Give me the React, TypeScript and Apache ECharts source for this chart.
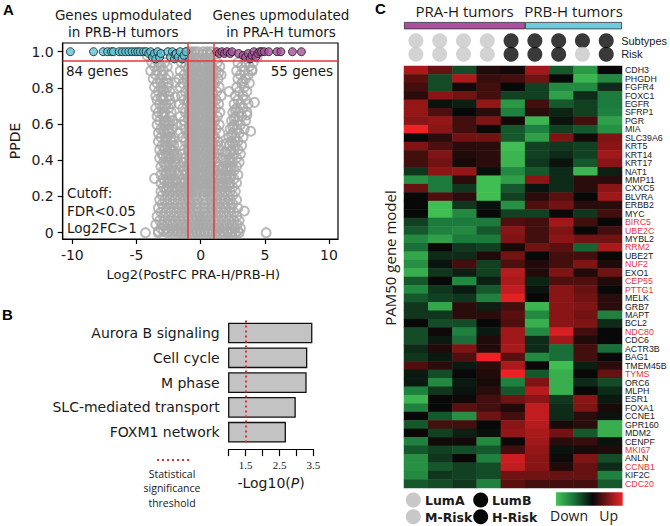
import React, { useEffect, useRef } from 'react';
import * as echarts from 'echarts';

// ---------- Panel A: volcano ----------
const xTicksA = [-10, -5, 0, 5, 10];
const yTicksA = [0, 0.2, 0.4, 0.6, 0.8, 1.0];
const ppdeCut = 0.95;
const fcCutLow = -1;
const fcCutHigh = 1;

// gray (non-significant) genes, grouped by PPDE level: [ppde, log2FC values]
const grayRows: [number, number[]][] = [
  [1.0, [-1.0, -0.75, -0.5, -0.25, 0.2, 0.5, 0.8]],
  [0.985, [-0.9, -0.65, -0.4, 0.15, 0.45, 0.7]],
  [0.963, [-0.8, -0.55, -0.3, 0.3, 0.55, 0.8]],
  [0.94, [-3.8, -3.3, -2.8, -1.5, -0.75, -0.45, 0.3, 0.65, 1.3, 2.9, 3.5, 4.1]],
  [0.918, [-3.6, -3.1, -2.6, -1.2, -0.6, -0.3, 0.2, 0.5, 0.85, 1.5, 3.2, 3.8]],
  [0.895, [-3.9, -3.4, -2.9, -1.6, -0.8, -0.5, 0.35, 0.7, 1.2, 2.8, 3.4, 4.0]],
  [0.872, [-3.5, -3.0, -2.5, -1.3, -0.65, -0.25, 0.15, 0.55, 0.9, 1.6, 3.1, 3.7]],
  [0.85, [-3.7, -3.2, -2.7, -1.7, -1.1, -0.8, -0.45, 0.3, 0.7, 1.35, 2.9, 3.5]],
  [0.826, [-3.4, -2.9, -2.5, -1.4, -0.6, -0.3, 0.2, 0.5, 0.85, 1.1, 3.2, 3.8]],
  [0.803, [-3.6, -3.1, -2.6, -1.6, -0.85, -0.5, 0.35, 0.65, 1.45, 2.8, 3.4]],
  [0.78, [-3.3, -2.8, -2.4, -1.2, -0.7, -0.35, 0.15, 0.5, 0.9, 1.25, 3.0, 3.6]],
  [0.757, [-3.5, -3.0, -2.5, -1.5, -0.8, -0.55, -0.2, 0.3, 0.7, 1.6, 2.7, 3.3]],
  [0.734, [-3.4, -2.9, -2.4, -1.3, -1.0, -0.6, -0.3, 0.2, 0.55, 0.85, 1.2, 2.9, 3.5]],
  [0.711, [-3.2, -2.7, -2.3, -1.7, -0.75, -0.45, 0.35, 0.7, 1.4, 2.6, 3.1, 3.7]],
  [0.688, [-3.5, -3.0, -2.5, -1.4, -0.85, -0.55, -0.25, 0.2, 0.5, 0.9, 1.15, 2.8, 3.3]],
  [0.665, [-3.3, -2.8, -2.3, -1.2, -0.7, -0.35, 0.3, 0.65, 1.5, 2.5, 3.0, 3.6]],
  [0.642, [-3.4, -2.9, -2.4, -1.6, -0.9, -0.6, -0.2, 0.15, 0.45, 0.8, 1.3, 2.7, 3.2]],
  [0.619, [-3.2, -2.7, -2.2, -1.3, -0.75, -0.45, 0.35, 0.7, 1.1, 2.4, 2.9, 3.5]],
  [0.596, [-3.4, -2.9, -2.5, -1.5, -0.85, -0.55, -0.25, 0.2, 0.55, 0.9, 1.45, 2.6, 3.1]],
  [0.573, [-3.1, -2.6, -2.2, -1.2, -0.7, -0.35, 0.3, 0.65, 1.2, 2.3, 2.8, 3.4]],
  [0.55, [-3.3, -2.8, -2.4, -1.7, -0.9, -0.6, -0.2, 0.15, 0.45, 0.8, 1.5, 2.5, 3.0]],
  [0.527, [-3.1, -2.6, -2.1, -1.4, -0.75, -0.45, 0.35, 0.7, 1.1, 2.2, 2.7, 3.3]],
  [0.504, [-3.3, -2.8, -2.3, -1.2, -0.85, -0.55, -0.25, 0.2, 0.55, 0.9, 1.35, 2.4, 2.9]],
  [0.481, [-3.0, -2.6, -2.1, -1.6, -0.7, -0.35, 0.3, 0.65, 1.2, 1.6, 2.2, 2.7, 3.2]],
  [0.458, [-3.2, -2.8, -2.3, -1.3, -0.9, -0.6, -0.2, 0.15, 0.45, 0.8, 1.4, 2.4, 2.9]],
  [0.435, [-3.0, -2.5, -2.1, -1.5, -0.75, -0.45, 0.35, 0.7, 1.1, 2.1, 2.6, 3.1]],
  [0.412, [-3.2, -2.7, -2.3, -1.8, -1.2, -0.85, -0.55, -0.25, 0.2, 0.55, 0.9, 1.3, 1.7, 2.3, 2.8]],
  [0.389, [-2.9, -2.5, -2.0, -1.4, -0.7, -0.35, 0.3, 0.65, 1.15, 2.0, 2.5, 3.0]],
  [0.366, [-3.1, -2.7, -2.2, -1.6, -1.1, -0.9, -0.6, -0.2, 0.15, 0.45, 0.8, 1.4, 1.8, 2.3, 2.8]],
  [0.343, [-2.9, -2.4, -2.0, -1.3, -0.75, -0.45, 0.35, 0.7, 1.1, 1.6, 2.1, 2.6]],
  [0.32, [-3.1, -2.7, -2.2, -1.7, -1.2, -0.85, -0.55, -0.25, 0.2, 0.55, 0.9, 1.3, 1.9, 2.4, 2.9]],
  [0.297, [-2.9, -2.5, -2.0, -1.5, -1.0, -0.7, -0.35, 0.3, 0.65, 1.15, 1.6, 2.1, 2.6]],
  [0.274, [-3.1, -2.6, -2.2, -1.8, -1.3, -0.9, -0.6, -0.2, 0.15, 0.45, 0.8, 1.35, 1.8, 2.3, 2.8]],
  [0.251, [-2.9, -2.5, -2.0, -1.6, -1.1, -0.75, -0.45, 0.35, 0.7, 1.1, 1.55, 2.0, 2.5]],
  [0.228, [-3.1, -2.7, -2.3, -1.9, -1.5, -1.2, -0.9, -0.6, -0.3, 0.25, 0.55, 0.85, 1.2, 1.5, 1.9, 2.3, 2.7]],
  [0.205, [-3.0, -2.6, -2.2, -1.8, -1.4, -1.05, -0.75, -0.45, 0.3, 0.65, 1.0, 1.35, 1.7, 2.1, 2.5]],
  [0.182, [-3.2, -2.8, -2.4, -2.0, -1.6, -1.25, -0.9, -0.6, -0.3, 0.2, 0.5, 0.85, 1.2, 1.55, 1.9, 2.3, 2.8]],
  [0.159, [-3.0, -2.6, -2.2, -1.8, -1.45, -1.1, -0.75, -0.45, -0.2, 0.3, 0.65, 1.0, 1.35, 1.75, 2.1, 2.5]],
  [0.136, [-3.3, -2.9, -2.5, -2.1, -1.7, -1.3, -0.95, -0.6, -0.3, 0.25, 0.55, 0.85, 1.2, 1.55, 1.95, 2.35, 2.9]],
  [0.113, [-3.1, -2.7, -2.3, -1.9, -1.5, -1.15, -0.8, -0.5, -0.2, 0.3, 0.65, 1.0, 1.4, 1.8, 2.2, 2.6]],
  [0.09, [-3.4, -2.9, -2.5, -2.1, -1.7, -1.35, -1.0, -0.65, -0.35, -0.1, 0.2, 0.5, 0.85, 1.2, 1.6, 2.0, 2.4, 2.8]],
  [0.067, [-3.2, -2.8, -2.4, -2.0, -1.6, -1.25, -0.9, -0.55, -0.25, 0.05, 0.35, 0.7, 1.05, 1.4, 1.8, 2.2, 2.6, 3.0]],
  [0.045, [-3.5, -3.0, -2.6, -2.2, -1.8, -1.45, -1.1, -0.75, -0.4, -0.1, 0.2, 0.5, 0.85, 1.25, 1.65, 2.05, 2.45, 2.85]],
  [0.025, [-3.1, -2.7, -2.3, -1.95, -1.6, -1.25, -0.9, -0.55, -0.2, 0.1, 0.4, 0.75, 1.1, 1.45, 1.85, 2.25, 2.65, 3.1]],
  [0.008, [-3.3, -2.9, -2.5, -2.1, -1.75, -1.4, -1.05, -0.7, -0.35, 0.0, 0.3, 0.6, 0.95, 1.3, 1.7, 2.1, 2.5, 2.9]],
  [0.0, [-4.3, -3.3, -2.6, -2.2, -1.8, -1.5, -1.2, -0.9, -0.6, -0.3, 0.0, 0.3, 0.6, 0.9, 1.2, 1.5, 1.8, 2.1, 2.4, 2.7, 3.0, 5.1]],
];
// extra genes filling the dense central columns and lower arms
const grayFillRows: [number, number[]][] = [
  [0.929, [-0.85, -0.6, -0.35, 0.25, 0.55, 0.8]],
  [0.906, [-0.95, -0.7, -0.4, 0.4, 0.65, 0.95]],
  [0.884, [-0.8, -0.55, -0.3, 0.2, 0.5, 0.75, 1.4]],
  [0.861, [-0.9, -0.7, -0.4, 0.35, 0.6, 0.9]],
  [0.838, [-0.85, -0.6, -0.25, 0.25, 0.55, 0.8, 3.3]],
  [0.815, [-0.95, -0.7, -0.45, 0.4, 0.7, 0.95]],
  [0.791, [-0.8, -0.55, -0.3, 0.2, 0.5, 0.75, -2.9]],
  [0.768, [-0.9, -0.65, -0.4, 0.35, 0.6, 0.9]],
  [0.745, [-0.85, -0.6, -0.25, 0.25, 0.5, 0.8, -3.1]],
  [0.722, [-0.95, -0.7, -0.45, 0.4, 0.65, 0.95]],
  [0.699, [-0.8, -0.55, -0.3, 0.2, 0.55, 0.75, -2.8]],
  [0.676, [-0.9, -0.65, -0.4, 0.35, 0.6, 0.9, 2.7]],
  [0.653, [-0.85, -0.6, -0.25, 0.25, 0.5, 0.8, -3.0]],
  [0.63, [-0.95, -0.7, -0.45, 0.4, 0.7, 0.95, 2.6]],
  [0.607, [-0.8, -0.55, -0.3, 0.2, 0.5, 0.75, -2.8, -2.4]],
  [0.584, [-0.9, -0.65, -0.4, 0.35, 0.6, 0.9, 2.5]],
  [0.561, [-0.85, -0.6, -0.25, 0.25, 0.55, 0.8, -2.9, -2.5]],
  [0.538, [-0.95, -0.7, -0.45, 0.4, 0.65, 0.95, 2.4]],
  [0.515, [-0.8, -0.55, -0.3, 0.2, 0.5, 0.75, -2.7, -2.3]],
  [0.492, [-0.9, -0.65, -0.4, 0.35, 0.6, 0.9, 2.0, 2.5]],
  [0.469, [-0.85, -0.6, -0.25, 0.25, 0.55, 0.8, -2.8, -2.4]],
  [0.446, [-0.95, -0.7, -0.45, 0.4, 0.7, 0.95, 1.9, 2.3]],
  [0.423, [-0.8, -0.55, -0.3, 0.2, 0.5, 0.75, -2.9, -2.5, -2.0]],
  [0.4, [-0.9, -0.65, -0.4, 0.35, 0.6, 0.9, 1.8, 2.2]],
  [0.377, [-0.85, -0.6, -0.25, 0.25, 0.55, 0.8, -2.8, -2.4, -1.9]],
  [0.354, [-0.95, -0.7, -0.45, 0.4, 0.65, 0.95, 1.7, 2.0, 2.4]],
  [0.331, [-0.8, -0.55, -0.3, 0.2, 0.5, 0.75, -2.7, -2.3, -1.8]],
  [0.308, [-0.9, -0.65, -0.4, 0.35, 0.6, 0.9, 1.6, 2.0, 2.3]],
  [0.285, [-0.85, -0.6, -0.25, 0.25, 0.55, 0.8, -2.8, -2.4, -1.9]],
  [0.262, [-0.95, -0.7, -0.45, 0.4, 0.65, 0.95, 1.4, 1.7, 2.2]],
  [0.24, [-0.8, -0.55, -0.3, 0.2, 0.5, 0.75, -2.7, -2.2, -1.8, -1.3]],
];
const grayOutliers: [number, number][] = [
  [-2.0, 0.75], [-1.9, 0.6], [-2.1, 0.45], [-1.95, 0.83], [3.6, 0.65], [4.0, 0.9],
  [4.4, 0.97], [-4.2, 0.98], [2.2, 0.78], [3.9, 0.56], [4.2, 0.72], [3.4, 0.12], [-3.6, 0.3],
];
// significant genes (PPDE > 0.95, |log2FC| > 1)
const upInPRB: [number, number][] = [
  [-10.15, 1.0], [-8.35, 1.0], [-7.6, 1.0], [-7.25, 1.0], [-6.95, 1.0], [-6.8, 1.0], [-6.35, 1.0],
  [-6.1, 1.0], [-5.85, 1.0], [-5.6, 1.0], [-5.35, 1.0], [-5.1, 1.0], [-4.9, 1.0], [-4.7, 1.0],
  [-4.45, 1.0], [-4.25, 1.0], [-4.05, 0.99], [-3.9, 1.0], [-3.75, 0.97], [-3.6, 0.99], [-3.5, 0.96],
  [-3.35, 1.0], [-3.2, 0.97], [-3.1, 0.99], [-2.55, 1.0], [-2.35, 0.97], [-2.2, 1.0], [-2.05, 0.96],
  [-2.0, 0.985], [-1.9, 0.99], [-1.75, 0.97], [-1.6, 1.0], [-1.45, 0.96], [-1.3, 0.98], [-1.15, 1.0],
];
const upInPRA: [number, number][] = [
  [1.25, 1.0], [1.45, 0.99], [1.65, 1.0], [1.85, 0.99], [2.05, 1.0], [2.3, 0.99], [2.45, 1.0],
  [2.95, 0.99], [3.3, 0.98], [3.5, 0.97], [3.7, 0.99], [3.85, 0.96], [4.0, 0.98], [4.15, 1.0],
  [4.3, 0.97], [4.45, 0.99], [4.6, 1.0], [4.75, 1.0], [4.95, 1.0], [5.3, 1.0], [5.95, 1.0],
  [6.25, 1.0], [7.15, 1.0], [7.85, 1.0],
];

// ---------- Panel B: pathways ----------
const pathways = ['Aurora B signaling', 'Cell cycle', 'M phase', 'SLC-mediated transport', 'FOXM1 network'];
const pathwayLogP = [3.47, 3.32, 3.3, 2.98, 2.69];
const sigThreshold = 1.5;
const bTickLabels = [1.5, 2.5, 3.5];

// ---------- Panel C: heatmap ----------
const genes = [
  'CDH3', 'PHGDH', 'FGFR4', 'FOXC1', 'EGFR', 'SFRP1', 'PGR', 'MIA', 'SLC39A6', 'KRT5',
  'KRT14', 'KRT17', 'NAT1', 'MMP11', 'CXXC5', 'BLVRA', 'ERBB2', 'MYC', 'BIRC5', 'UBE2C',
  'MYBL2', 'RRM2', 'UBE2T', 'NUF2', 'EXO1', 'CEP55', 'PTTG1', 'MELK', 'GRB7', 'MAPT',
  'BCL2', 'NDC80', 'CDC6', 'ACTR3B', 'BAG1', 'TMEM45B', 'TYMS', 'ORC6', 'MLPH', 'ESR1',
  'FOXA1', 'CCNE1', 'GPR160', 'MDM2', 'CENPF', 'MKI67', 'ANLN', 'CCNB1', 'KIF2C', 'CDC20',
];
const redGenes = ['BIRC5', 'UBE2C', 'RRM2', 'NUF2', 'CEP55', 'PTTG1', 'NDC80', 'TYMS', 'MKI67', 'CCNB1', 'CDC20'];
const samples = ['S1', 'S2', 'S3', 'S4', 'S5', 'S6', 'S7', 'S8', 'S9'];
const groupNames = ['PRA-H tumors', 'PRB-H tumors'];
const groupSizes = [5, 4];
const subtypes = ['LumA', 'LumA', 'LumA', 'LumA', 'LumB', 'LumB', 'LumB', 'LumB', 'LumB'];
const risk = ['M', 'M', 'M', 'M', 'H', 'H', 'H', 'M', 'H'];
const annotRows = ['Subtypes', 'Risk'];
const heat: number[][] = [
  [0.7, 0.4, -0.3, 0.1, 0.05, 0.65, -0.35, -0.7, 0.0],
  [0.35, -0.3, 0.7, 0.2, 0.25, 0.45, 0.0, -0.9, -0.6],
  [0.25, -0.3, 0.05, 0.25, 0.0, -0.25, -0.6, -0.6, -0.15],
  [0.15, 0.55, 0.45, 0.25, -0.25, -0.25, -0.75, -0.15, -0.5],
  [0.6, -0.05, -0.1, 0.6, -0.7, 0.25, -0.35, -0.25, -0.5],
  [0.6, 0.3, 0.0, 0.15, -0.55, 0.15, -0.12, -0.25, -0.55],
  [0.55, 0.6, 0.25, 0.5, 0.05, -0.9, -0.05, 0.25, -0.75],
  [1.0, 0.55, 0.25, 0.02, -0.35, -0.55, -0.25, -0.35, -0.65],
  [0.0, 0.15, 0.45, 0.45, -0.35, -0.75, 0.5, 0.05, 0.5],
  [0.5, 0.3, 0.15, 0.15, -0.95, -0.25, -0.2, -0.25, 0.55],
  [0.25, 0.5, 0.1, 0.15, -0.9, -0.25, -0.15, -0.25, 0.65],
  [0.25, 0.45, 0.07, 0.15, -0.9, -0.2, -0.05, -0.35, 0.55],
  [-0.2, 0.55, 0.6, -0.03, -0.6, -0.35, -0.15, -0.9, -0.1],
  [-0.65, -0.5, 0.15, -0.95, -0.75, 0.55, -0.15, 0.15, 0.15],
  [0.4, -0.5, -0.2, -0.95, -0.35, -0.05, -0.15, 0.15, 0.55],
  [0.0, 0.3, 0.15, -0.95, -0.25, 0.15, 0.35, 0.0, 0.65],
  [0.0, -0.95, -0.2, -0.03, -0.65, 0.3, 0.45, 0.15, 0.15],
  [0.0, -0.95, -0.6, 0.0, -0.25, -0.25, 0.02, -0.2, 0.25],
  [-0.25, -0.5, -0.5, -0.5, 0.3, 0.25, 0.65, 0.25, 0.0],
  [-0.35, -0.55, -0.6, -0.35, 0.55, 0.25, 0.5, 0.0, 0.25],
  [-0.6, -0.75, -0.5, -0.5, 0.5, 0.25, 0.55, 0.45, 0.45],
  [-0.45, 0.0, -0.2, -0.25, 0.07, 0.45, 0.35, -0.4, 0.7],
  [-0.8, -0.15, -0.15, 0.1, 0.45, 0.0, 0.25, 0.25, 0.0],
  [-0.65, -0.05, 0.25, -0.25, 0.3, 0.1, 0.25, 0.5, 0.1],
  [-0.85, -0.2, -0.1, -0.25, 0.75, 0.1, 0.5, 0.1, 0.45],
  [-0.35, 0.0, -0.6, -0.1, 0.7, -0.12, 0.3, 0.3, 0.1],
  [-0.6, -0.2, -0.08, -0.35, 0.8, -0.05, 0.55, 0.4, 0.0],
  [-0.35, -0.25, -0.2, -0.55, 0.95, 0.0, 0.55, 0.45, 0.15],
  [-0.2, -0.8, 0.15, -0.1, 0.25, -0.9, 0.55, 0.5, 0.15],
  [-0.2, -0.2, 0.15, 0.15, 0.35, -0.6, 0.55, 0.45, -0.55],
  [0.0, -0.3, -0.3, 0.0, 0.3, -0.85, 0.55, 0.5, -0.15],
  [-0.3, 0.03, -0.55, -0.08, 0.65, -0.6, 0.9, 0.25, 0.0],
  [-0.3, -0.08, -0.45, 0.1, 0.65, -0.15, 0.65, 0.1, 0.0],
  [-0.15, 0.1, 0.5, 0.1, 0.7, -0.15, -0.45, 0.25, -0.45],
  [-0.2, -0.08, 0.3, 1.0, 0.35, -0.6, -0.45, 0.25, 0.0],
  [0.3, 0.15, -0.08, 0.15, 0.7, 0.0, -0.95, -0.1, 0.15],
  [-0.08, -0.3, 0.0, 0.1, 1.0, -0.35, -0.85, 0.0, 0.4],
  [-0.08, -0.6, -0.08, 0.07, -0.55, 0.5, -0.85, -0.15, -0.3],
  [-0.55, -0.2, -0.05, 0.15, -0.35, 0.75, -0.85, 0.0, -0.15],
  [-0.9, 0.0, 0.03, 0.25, 0.45, 0.55, -0.2, 0.55, -0.08],
  [-0.55, 0.0, 0.35, 0.25, 0.1, 0.8, -0.15, 0.5, 0.07],
  [0.0, -0.35, -0.65, 0.45, 0.25, 0.8, -0.15, 0.15, -0.05],
  [-0.35, 0.25, 0.25, 0.0, 0.55, 0.75, 0.07, 0.15, -0.85],
  [0.0, -0.25, -0.1, -0.03, 0.6, 0.7, 0.45, -0.35, -0.85],
  [-0.55, 0.05, 0.05, -0.6, 0.02, 0.65, 0.15, 0.2, -0.05],
  [-0.35, -0.25, -0.3, -0.35, 0.25, 0.6, -0.05, 0.07, 0.1],
  [-0.65, -0.2, 0.0, -0.55, 0.85, 0.55, 0.03, 0.5, -0.3],
  [-0.65, -0.35, -0.25, -0.3, 0.8, 0.55, 0.1, 0.4, -0.15],
  [-0.6, -0.2, -0.25, -0.3, 0.45, 0.45, 0.4, 0.4, -0.55],
  [-0.35, -0.3, -0.2, -0.55, 0.35, 0.25, 0.25, 0.25, -0.35],
];

const SANS = 'DejaVu Sans';
const OPEN = 'Open Sans';
const NARROW = '"Liberation Sans Narrow", "Liberation Sans", sans-serif';
const INK = '#1a1a1a';
const GRAY_DOT = '#c8c8c8';

function buildOption(): any {
  const grayPoints = [
    ...grayRows.flatMap(([y, xs]) => xs.map((x) => [x, y])),
    ...grayFillRows.flatMap(([y, xs]) => xs.map((x) => [x, y])),
    ...grayOutliers,
  ];
  const heatData: [number, number, number][] = [];
  heat.forEach((row, r) => row.forEach((v, c) => heatData.push([c, r, v])));
  const annotData: any[] = [];
  samples.forEach((_, i) => {
    annotData.push({ value: [i, 0], itemStyle: { color: subtypes[i] === 'LumA' ? GRAY_DOT : '#080808' } });
    annotData.push({ value: [i, 1], itemStyle: { color: risk[i] === 'M' ? GRAY_DOT : '#080808' } });
  });
  const groupColors = ['#ad4f9f', '#6ccbdc'];
  const tickFont = { fontSize: 14, color: INK, fontFamily: SANS };

  return {
    animation: false,
    textStyle: { fontFamily: SANS },
    grid: [
      { left: 62.7, top: 43, width: 275.3, height: 196, show: true, borderColor: '#000', borderWidth: 1.2, backgroundColor: 'transparent' },
      { left: 228.7, top: 320.6, width: 84.7, height: 124 },
      { left: 404, top: 66, width: 218, height: 422 },
      { left: 404, top: 33.9, width: 218, height: 27.2 },
      { left: 404, top: 22, width: 218, height: 7.3 },
    ],
    xAxis: [
      {
        type: 'value', gridIndex: 0, min: -10.75, max: 10.7,
        axisLine: { show: true, onZero: false, lineStyle: { color: '#000', width: 1.2 } },
        axisTick: { show: true, customValues: xTicksA, length: 5, lineStyle: { color: '#000', width: 1.2 } },
        axisLabel: { customValues: xTicksA, margin: 9, ...tickFont },
        splitLine: { show: false },
        name: 'Log2(PostFC PRA-H/PRB-H)', nameLocation: 'middle', nameGap: 29,
        nameTextStyle: { fontSize: 13, color: INK, fontFamily: SANS, padding: [0, 14, 0, 0] },
      },
      {
        type: 'value', gridIndex: 1, min: 1, max: 3.5, interval: 0.5, offset: 4.5,
        axisLine: { show: true, onZero: false, lineStyle: { color: '#000', width: 1.2 } },
        axisTick: { show: true, length: 7, lineStyle: { color: '#000', width: 1.2 } },
        axisLabel: { customValues: bTickLabels, margin: 10, fontSize: 11, color: INK, fontFamily: 'Liberation Serif' },
        splitLine: { show: false },
        name: '-Log10({it|P})', nameLocation: 'middle', nameGap: 27,
        nameTextStyle: { fontSize: 14, color: INK, fontFamily: SANS, rich: { it: { fontStyle: 'italic', fontSize: 14, fontFamily: SANS, color: INK } } },
      },
      { type: 'category', gridIndex: 2, data: samples, show: false },
      { type: 'category', gridIndex: 3, data: samples, show: false },
      { type: 'value', gridIndex: 4, min: 0, max: 9, show: false },
    ],
    yAxis: [
      {
        type: 'value', gridIndex: 0, min: -0.035, max: 1.048,
        axisLine: { show: true, onZero: false, lineStyle: { color: '#000', width: 1.2 } },
        axisTick: { show: true, customValues: yTicksA, length: 5, lineStyle: { color: '#000', width: 1.2 } },
        axisLabel: { customValues: yTicksA, margin: 9, formatter: (v: number) => (v === 0 ? '0' : v.toFixed(1)), ...tickFont },
        splitLine: { show: false },
        name: 'PPDE', nameLocation: 'middle', nameGap: 41, nameRotate: 90,
        nameTextStyle: { fontSize: 14, color: INK, fontFamily: SANS },
      },
      {
        type: 'category', gridIndex: 1, data: pathways, inverse: true,
        axisLine: { show: false }, axisTick: { show: false },
        axisLabel: { interval: 0, margin: 9, fontSize: 14, color: INK, fontFamily: SANS },
      },
      {
        type: 'category', gridIndex: 2, data: genes, inverse: true, position: 'right',
        axisLine: { show: false }, axisTick: { show: false },
        axisLabel: {
          interval: 0, margin: 3, fontSize: 8.8, lineHeight: 8.4, fontFamily: NARROW,
          color: (val: string) => (redGenes.includes(val) ? '#e8323c' : INK),
        },
      },
      {
        type: 'category', gridIndex: 3, data: annotRows, inverse: true, position: 'right',
        axisLine: { show: false }, axisTick: { show: false },
        axisLabel: { interval: 0, margin: 3, fontSize: 11, color: INK, fontFamily: 'Liberation Sans' },
      },
      { type: 'category', gridIndex: 4, data: ['group'], show: false },
    ],
    visualMap: {
      show: false, type: 'continuous', seriesIndex: 4, min: -1, max: 1,
      inRange: { color: ['#44c455', '#1b7a3c', '#080808', '#7e1414', '#ee2226'] },
    },
    series: [
      {
        type: 'scatter', name: 'NS', xAxisIndex: 0, yAxisIndex: 0, data: grayPoints,
        symbol: 'circle', symbolSize: 9,
        itemStyle: { color: 'rgba(255,255,255,0)', borderColor: '#a9a9a9', borderWidth: 2 },
        markLine: {
          silent: true, symbol: 'none', label: { show: false },
          lineStyle: { color: '#e53a3a', width: 1.5, type: 'solid' },
          data: [{ yAxis: ppdeCut }, { xAxis: fcCutLow }, { xAxis: fcCutHigh }],
        },
      },
      {
        type: 'scatter', name: 'Up in PRB-H', xAxisIndex: 0, yAxisIndex: 0, data: upInPRB,
        symbolSize: 8, itemStyle: { color: '#5bc3d6', borderColor: '#1a1a1a', borderWidth: 1 },
      },
      {
        type: 'scatter', name: 'Up in PRA-H', xAxisIndex: 0, yAxisIndex: 0, data: upInPRA,
        symbolSize: 8, itemStyle: { color: '#a6509c', borderColor: '#1a1a1a', borderWidth: 1 },
      },
      {
        type: 'bar', name: 'Pathways', xAxisIndex: 1, yAxisIndex: 1, data: pathwayLogP, barWidth: 20.7,
        itemStyle: { color: '#c3c3c3', borderColor: '#111', borderWidth: 1.3 },
        markLine: {
          silent: true, symbol: 'none', label: { show: false },
          lineStyle: { color: '#e0302e', width: 2, type: [2, 3] },
          data: [{ xAxis: sigThreshold }],
        },
      },
      {
        type: 'heatmap', name: 'PAM50', xAxisIndex: 2, yAxisIndex: 2, data: heatData,
        itemStyle: { borderWidth: 0 },
      },
      {
        type: 'scatter', name: 'Annotations', xAxisIndex: 3, yAxisIndex: 3, data: annotData,
        symbolSize: 15,
      },
      ...groupNames.map((g, i) => ({
        type: 'bar', name: g, xAxisIndex: 4, yAxisIndex: 4, stack: 'groups', data: [groupSizes[i]],
        barWidth: 7.3,
        itemStyle: { color: groupColors[i], borderColor: '#333', borderWidth: 0.8 },
        label: { show: true, position: 'top', distance: 4, formatter: '{a}', fontSize: 15, fontFamily: OPEN, color: INK },
      })),
    ],
    graphic: [
      // panel letters
      { type: 'text', x: 3, y: 2, style: { text: 'A', fontSize: 15, fontWeight: 'bold', fontFamily: 'Liberation Sans', fill: '#000' } },
      { type: 'text', x: 2, y: 307, style: { text: 'B', fontSize: 15, fontWeight: 'bold', fontFamily: 'Liberation Sans', fill: '#000' } },
      { type: 'text', x: 375, y: 1, style: { text: 'C', fontSize: 15, fontWeight: 'bold', fontFamily: 'Liberation Sans', fill: '#000' } },
      // panel A annotations
      { type: 'text', x: 123.3, y: 23.3, style: { text: 'Genes upmodulated\nin PRB-H tumors', align: 'center', verticalAlign: 'middle', lineHeight: 16.6, fontSize: 13.5, fontFamily: SANS, fill: INK } },
      { type: 'text', x: 281, y: 23.3, style: { text: 'Genes upmodulated\nin PRA-H tumors', align: 'center', verticalAlign: 'middle', lineHeight: 16.6, fontSize: 13.5, fontFamily: SANS, fill: INK } },
      { type: 'text', x: 66, y: 71, z: 10, style: { text: '84 genes', verticalAlign: 'middle', fontSize: 13.5, fontFamily: SANS, fill: INK } },
      { type: 'text', x: 333, y: 71, z: 10, style: { text: '55 genes', align: 'right', verticalAlign: 'middle', fontSize: 13.5, fontFamily: SANS, fill: INK } },
      { type: 'text', x: 67, y: 210.7, z: 10, style: { text: 'Cutoff:\nFDR<0.05\nLog2FC>1', verticalAlign: 'middle', lineHeight: 17.6, fontSize: 13.5, fontFamily: SANS, fill: INK } },
      // panel B legend
      { type: 'line', shape: { x1: 157, y1: 460, x2: 189, y2: 460 }, style: { stroke: '#e0302e', lineWidth: 2, lineDash: [2, 3] } },
      { type: 'text', x: 172, y: 488.3, style: { text: 'Statistical\nsignificance\nthreshold', align: 'center', verticalAlign: 'middle', lineHeight: 14.4, fontSize: 10.5, fontFamily: OPEN, fill: INK } },
      // panel C labels and legend
      { type: 'text', x: 390, y: 258, rotation: Math.PI / 2, style: { text: 'PAM50 gene model', align: 'center', verticalAlign: 'middle', fontSize: 15, fontFamily: OPEN, fill: INK } },
      { type: 'circle', shape: { cx: 413.3, cy: 500, r: 7.5 }, style: { fill: GRAY_DOT } },
      { type: 'circle', shape: { cx: 480.7, cy: 500, r: 7.5 }, style: { fill: '#080808' } },
      { type: 'circle', shape: { cx: 413.3, cy: 516.7, r: 7.5 }, style: { fill: GRAY_DOT } },
      { type: 'circle', shape: { cx: 480.7, cy: 516.7, r: 7.5 }, style: { fill: '#080808' } },
      { type: 'text', x: 425, y: 500, style: { text: 'LumA', verticalAlign: 'middle', fontSize: 12.5, fontWeight: 'bold', fontFamily: SANS, fill: INK } },
      { type: 'text', x: 492, y: 500, style: { text: 'LumB', verticalAlign: 'middle', fontSize: 12.5, fontWeight: 'bold', fontFamily: SANS, fill: INK } },
      { type: 'text', x: 425, y: 517, style: { text: 'M-Risk', verticalAlign: 'middle', fontSize: 12.5, fontWeight: 'bold', fontFamily: SANS, fill: INK } },
      { type: 'text', x: 492, y: 517, style: { text: 'H-Risk', verticalAlign: 'middle', fontSize: 12.5, fontWeight: 'bold', fontFamily: SANS, fill: INK } },
      {
        type: 'rect', shape: { x: 556, y: 492.3, width: 66.7, height: 13.4 },
        style: {
          fill: new echarts.graphic.LinearGradient(0, 0, 1, 0, [
            { offset: 0, color: '#44c455' },
            { offset: 0.25, color: '#1b7a3c' },
            { offset: 0.55, color: '#080808' },
            { offset: 0.78, color: '#7e1414' },
            { offset: 1, color: '#ee2226' },
          ]),
        },
      },
      { type: 'text', x: 550, y: 515, style: { text: 'Down', verticalAlign: 'middle', fontSize: 14, fontFamily: OPEN, fill: INK } },
      { type: 'text', x: 618, y: 515, style: { text: 'Up', align: 'right', verticalAlign: 'middle', fontSize: 14, fontFamily: OPEN, fill: INK } },
    ],
  };
}

export default function App() {
  const ref = useRef<HTMLDivElement>(null);
  useEffect(() => {
    document.body.style.margin = '0';
    const chart = echarts.init(ref.current!, null, { renderer: 'svg' });
    chart.setOption(buildOption());
    return () => chart.dispose();
  }, []);
  return <div ref={ref} style={{ width: 670, height: 526 }} />;
}
